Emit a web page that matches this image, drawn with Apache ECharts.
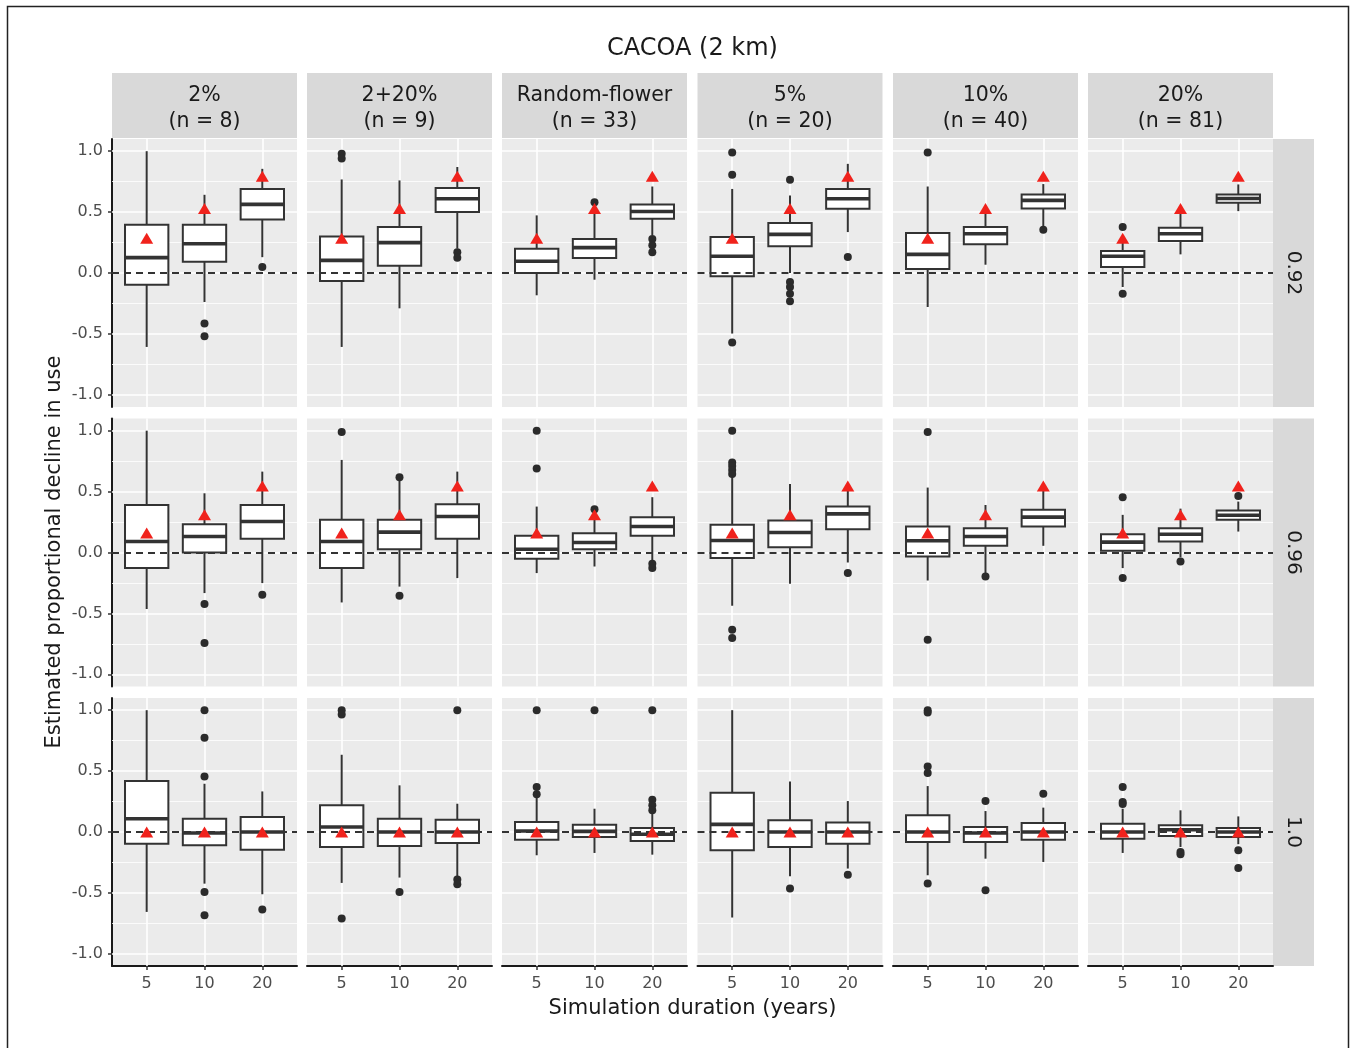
<!DOCTYPE html>
<html><head><meta charset="utf-8">
<script src="https://cdn.jsdelivr.net/npm/echarts@6/dist/echarts.min.js"></script>
<style>html,body{margin:0;padding:0;background:#fff}#c{width:1352px;height:1048px}</style>
</head><body><div id="c"></div><script>
// ---------- data ----------
const chartTitle = 'CACOA (2 km)';
const xTitle = 'Simulation duration (years)';
const yTitle = 'Estimated proportional decline in use';
const durations = ['5', '10', '20'];
const facetNames = ['2%', '2+20%', 'Random-flower', '5%', '10%', '20%'];
const facetN = [8, 9, 33, 20, 40, 81];
const rowLabels = ['0.92', '0.96', '1.0'];
const yTicks = [-1, -0.5, 0, 0.5, 1];
const yMinor = [-0.75, -0.25, 0.25, 0.75];

// true values (red triangles) per row, per duration
const true092 = [0.285, 0.53, 0.795];
const true096 = [0.16, 0.31, 0.545];
const true100 = [0, 0, 0];

// box stats [lower whisker, Q1, median, Q3, upper whisker] per facet, per duration
const boxes092 = [
  [[-0.607, -0.096, 0.126, 0.396, 1.0], [-0.238, 0.093, 0.24, 0.396, 0.642], [0.13, 0.44, 0.563, 0.69, 0.855]],
  [[-0.607, -0.066, 0.104, 0.30, 0.768], [-0.29, 0.06, 0.249, 0.377, 0.76], [0.2, 0.5, 0.61, 0.697, 0.87]],
  [[-0.183, 0.0, 0.096, 0.2, 0.473], [-0.055, 0.123, 0.208, 0.28, 0.53], [0.31, 0.445, 0.505, 0.563, 0.71]],
  [[-0.497, -0.027, 0.137, 0.295, 0.69], [0.0, 0.219, 0.317, 0.41, 0.637], [0.336, 0.527, 0.609, 0.689, 0.896]],
  [[-0.279, 0.033, 0.153, 0.328, 0.71], [0.068, 0.235, 0.322, 0.377, 0.51], [0.38, 0.53, 0.596, 0.645, 0.73]],
  [[-0.115, 0.049, 0.137, 0.18, 0.30], [0.153, 0.262, 0.322, 0.372, 0.5], [0.508, 0.577, 0.612, 0.645, 0.727]]
];
const boxes096 = [
  [[-0.464, -0.128, 0.09, 0.39, 1.0], [-0.333, 0.0, 0.131, 0.232, 0.486], [-0.251, 0.112, 0.254, 0.39, 0.664]],
  [[-0.41, -0.128, 0.09, 0.268, 0.76], [-0.28, 0.027, 0.167, 0.268, 0.6], [-0.21, 0.112, 0.295, 0.396, 0.664]],
  [[-0.169, -0.052, 0.027, 0.137, 0.377], [-0.115, 0.027, 0.082, 0.158, 0.33], [-0.066, 0.137, 0.213, 0.29, 0.454]],
  [[-0.437, -0.046, 0.098, 0.227, 0.62], [-0.257, 0.044, 0.164, 0.262, 0.563], [-0.082, 0.191, 0.317, 0.377, 0.52]],
  [[-0.23, -0.033, 0.096, 0.213, 0.533], [-0.17, 0.055, 0.131, 0.2, 0.39], [0.055, 0.213, 0.29, 0.35, 0.52]],
  [[-0.128, 0.014, 0.085, 0.15, 0.309], [-0.04, 0.09, 0.15, 0.2, 0.36], [0.172, 0.268, 0.306, 0.344, 0.418]]
];
const boxes100 = [
  [[-0.656, -0.096, 0.109, 0.418, 1.0], [-0.424, -0.109, -0.008, 0.109, 0.396], [-0.511, -0.145, 0.0, 0.123, 0.333]],
  [[-0.418, -0.123, 0.041, 0.219, 0.634], [-0.374, -0.115, 0.0, 0.109, 0.383], [-0.369, -0.09, 0.0, 0.101, 0.232]],
  [[-0.191, -0.063, 0.008, 0.082, 0.287], [-0.172, -0.041, 0.005, 0.06, 0.191], [-0.186, -0.074, -0.019, 0.033, 0.15]],
  [[-0.702, -0.15, 0.063, 0.322, 1.0], [-0.363, -0.123, 0.0, 0.096, 0.415], [-0.3, -0.096, 0.0, 0.077, 0.254]],
  [[-0.355, -0.082, 0.0, 0.137, 0.377], [-0.219, -0.082, -0.008, 0.041, 0.172], [-0.246, -0.063, 0.0, 0.074, 0.2]],
  [[-0.172, -0.055, 0.0, 0.068, 0.191], [-0.123, -0.033, 0.019, 0.055, 0.178], [-0.1, -0.041, 0.0, 0.033, 0.128]]
];

// outliers per facet, per duration
const outliers092 = [
  [[], [-0.415, -0.52], [0.05]],
  [[0.978, 0.94], [], [0.17, 0.126]],
  [[], [0.58], [0.28, 0.227, 0.17]],
  [[0.99, 0.806, -0.571], [0.765, -0.074, -0.115, -0.17, -0.232], [0.131]],
  [[0.989], [], [0.355]],
  [[0.377, -0.17], [], []]
];
const outliers096 = [
  [[], [-0.423, -0.743], [-0.347]],
  [[0.99], [0.617, -0.355], []],
  [[1.0, 0.69], [0.355], [-0.093, -0.128]],
  [[1.0, 0.738, 0.71, 0.678, 0.645, -0.634, -0.702], [], [-0.169]],
  [[0.99, -0.716], [-0.197], []],
  [[0.454, -0.21], [-0.074], [0.464]]
];
const outliers100 = [
  [[], [1.0, 0.773, 0.456, -0.492, -0.683], [-0.637]],
  [[1.0, 0.964, -0.71], [-0.492], [1.0, -0.39, -0.429]],
  [[1.0, 0.369, 0.309], [1.0], [1.0, 0.265, 0.219, 0.178]],
  [[], [-0.464], [-0.35]],
  [[1.0, 0.98, 0.538, 0.484, -0.423], [0.254, -0.478], [0.314]],
  [[0.369, 0.246, 0.23], [-0.164, -0.183], [-0.15, -0.295]]
];

const rowBoxes = [boxes092, boxes096, boxes100];
const rowOutliers = [outliers092, outliers096, outliers100];
const rowTrue = [true092, true096, true100];

// ---------- layout ----------
const FONT = 'DejaVu Sans';
const colLeft = [112, 307, 502, 697.5, 893, 1088];
const rowTop = [139, 418.5, 698];
const PW = 185, PH = 268;
const INK = '#333333';

const grids = [], xAxes = [], yAxes = [], series = [], graphics = [];

for (let r = 0; r < 3; r++) {
  for (let c = 0; c < 6; c++) {
    const gi = r * 6 + c;
    grids.push({ left: colLeft[c], top: rowTop[r], width: PW, height: PH, show: true,
      backgroundColor: '#EBEBEB', borderWidth: 0, containLabel: false });
    xAxes.push({ gridIndex: gi, type: 'value', min: 0.4, max: 3.6,
      axisLine: { show: r === 2, onZero: false, lineStyle: { color: '#1a1a1a', width: 2 } },
      axisTick: { show: r === 2, customValues: [1, 2, 3], length: 4, lineStyle: { color: INK, width: 1.5 } },
      axisLabel: { show: r === 2, customValues: [1, 2, 3], formatter: v => durations[Math.round(v) - 1],
        color: '#4D4D4D', fontSize: 16, margin: 10, fontFamily: FONT },
      splitLine: { show: false } });
    yAxes.push({ gridIndex: gi, type: 'value', min: -1.1, max: 1.1,
      axisLine: { show: c === 0, onZero: false, lineStyle: { color: '#1a1a1a', width: 2 } },
      axisTick: { show: c === 0, customValues: yTicks, length: 4, lineStyle: { color: INK, width: 1.5 } },
      axisLabel: { show: c === 0, customValues: yTicks, formatter: v => v.toFixed(1),
        color: '#4D4D4D', fontSize: 16, margin: 9, fontFamily: FONT },
      splitLine: { show: false } });

    // grid lines
    series.push({ type: 'line', xAxisIndex: gi, yAxisIndex: gi, data: [], silent: true, z: 1,
      markLine: { silent: true, z: 1, symbol: ['none', 'none'], label: { show: false }, animation: false,
        emphasis: { disabled: true },
        data: [
          ...yTicks.map(v => ({ yAxis: v, lineStyle: { color: '#ffffff', width: 1.6, type: 'solid' } })),
          ...yMinor.map(v => ({ yAxis: v, lineStyle: { color: '#ffffff', width: 0.8, type: 'solid' } })),
          ...[1, 2, 3].map(v => ({ xAxis: v, lineStyle: { color: '#ffffff', width: 1.6, type: 'solid' } }))
        ] } });

    // boxes
    series.push({ type: 'custom', xAxisIndex: gi, yAxisIndex: gi, z: 2, silent: true,
      encode: { x: 0, y: [1, 2, 3, 4, 5] },
      data: rowBoxes[r][c].map((s, i) => [i + 1, ...s]),
      renderItem: (params, api) => {
        const x = api.value(0);
        const lo = api.value(1), q1 = api.value(2), med = api.value(3), q3 = api.value(4), hi = api.value(5);
        const pHi = api.coord([x, hi]), pQ3 = api.coord([x, q3]), pQ1 = api.coord([x, q1]), pLo = api.coord([x, lo]);
        const pMed = api.coord([x, med]);
        const left = api.coord([x - 0.375, med])[0], right = api.coord([x + 0.375, med])[0];
        return { type: 'group', children: [
          { type: 'line', shape: { x1: pHi[0], y1: pHi[1], x2: pQ3[0], y2: pQ3[1] }, style: { stroke: INK, lineWidth: 2 } },
          { type: 'line', shape: { x1: pQ1[0], y1: pQ1[1], x2: pLo[0], y2: pLo[1] }, style: { stroke: INK, lineWidth: 2 } },
          { type: 'rect', shape: { x: left, y: pQ3[1], width: right - left, height: pQ1[1] - pQ3[1] },
            style: { fill: '#ffffff', stroke: INK, lineWidth: 2 } },
          { type: 'line', shape: { x1: left, y1: pMed[1], x2: right, y2: pMed[1] }, style: { stroke: INK, lineWidth: 3.6 } }
        ] };
      } });

    // dashed zero line
    series.push({ type: 'line', xAxisIndex: gi, yAxisIndex: gi, data: [], silent: true, z: 3,
      markLine: { silent: true, z: 3, symbol: ['none', 'none'], label: { show: false }, animation: false,
        emphasis: { disabled: true },
        data: [{ yAxis: 0, lineStyle: { color: INK, width: 2, type: [7, 5] } }] } });

    // outliers
    const od = [];
    rowOutliers[r][c].forEach((arr, i) => arr.forEach(v => od.push([i + 1, v])));
    series.push({ type: 'scatter', xAxisIndex: gi, yAxisIndex: gi, z: 4, silent: true,
      symbol: 'circle', symbolSize: 8, itemStyle: { color: '#2b2b2b', opacity: 1 }, data: od });

    // true values
    series.push({ type: 'scatter', xAxisIndex: gi, yAxisIndex: gi, z: 5, silent: true,
      symbol: 'triangle', symbolSize: [13, 11], itemStyle: { color: '#F0221C', opacity: 1 },
      data: rowTrue[r].map((v, i) => [i + 1, v]) });
  }
}

// strips
for (let c = 0; c < 6; c++) {
  graphics.push({ type: 'rect', shape: { x: colLeft[c], y: 73, width: PW, height: 65 }, style: { fill: '#D9D9D9' }, silent: true });
  graphics.push({ type: 'text', x: colLeft[c] + PW / 2, y: 109, silent: true,
    style: { text: facetNames[c] + '\n(n = ' + facetN[c] + ')', fontSize: 20.5, fontFamily: FONT, lineHeight: 26,
      fill: '#1A1A1A', align: 'center', verticalAlign: 'middle', textAlign: 'center', textVerticalAlign: 'middle' } });
}
for (let r = 0; r < 3; r++) {
  graphics.push({ type: 'rect', shape: { x: 1273, y: rowTop[r], width: 41, height: PH }, style: { fill: '#D9D9D9' }, silent: true });
  graphics.push({ type: 'text', x: 1293.5, y: rowTop[r] + PH / 2, rotation: -Math.PI / 2, silent: true,
    style: { text: rowLabels[r], fontSize: 20, fontFamily: FONT, fill: '#1A1A1A',
      align: 'center', verticalAlign: 'middle', textAlign: 'center', textVerticalAlign: 'middle' } });
}
graphics.push({ type: 'text', x: 692.5, y: 49, silent: true,
  style: { text: chartTitle, fontSize: 24, fontFamily: FONT, fill: '#1A1A1A',
    align: 'center', verticalAlign: 'middle', textAlign: 'center', textVerticalAlign: 'middle' } });
graphics.push({ type: 'text', x: 692.5, y: 1009, silent: true,
  style: { text: xTitle, fontSize: 21, fontFamily: FONT, fill: '#1A1A1A',
    align: 'center', verticalAlign: 'middle', textAlign: 'center', textVerticalAlign: 'middle' } });
graphics.push({ type: 'text', x: 55, y: 552, rotation: Math.PI / 2, silent: true,
  style: { text: yTitle, fontSize: 21, fontFamily: FONT, fill: '#1A1A1A',
    align: 'center', verticalAlign: 'middle', textAlign: 'center', textVerticalAlign: 'middle' } });
graphics.push({ type: 'rect', shape: { x: 7.5, y: 6.5, width: 1341, height: 1060 }, silent: true,
  style: { fill: 'none', stroke: '#222', lineWidth: 1.5 } });

const chart = echarts.init(document.getElementById('c'), null, { renderer: 'canvas' });
chart.setOption({
  animation: false,
  backgroundColor: '#ffffff',
  textStyle: { fontFamily: FONT },
  grid: grids, xAxis: xAxes, yAxis: yAxes, series: series,
  graphic: { elements: graphics }
});
</script></body></html>
